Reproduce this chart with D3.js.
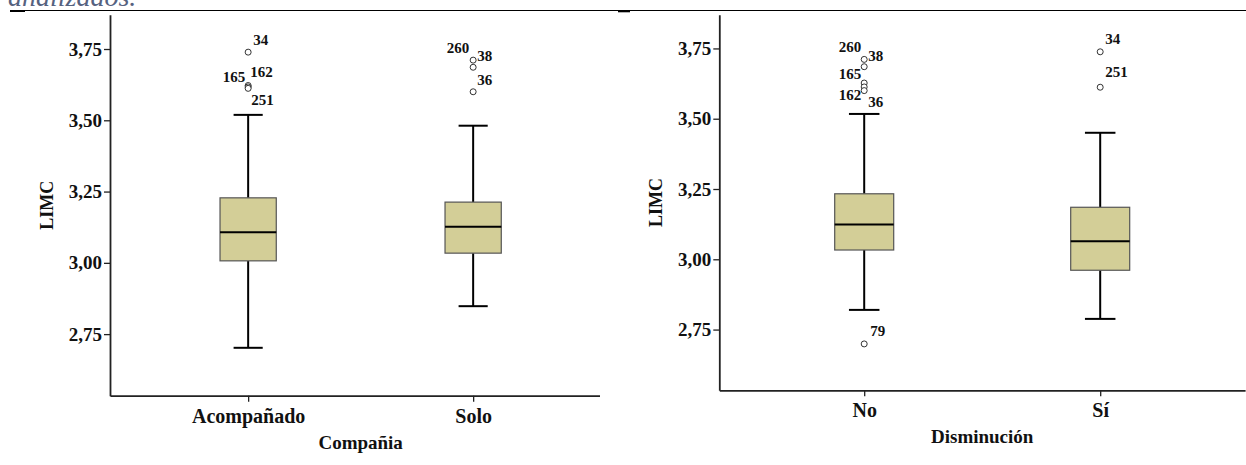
<!DOCTYPE html>
<html>
<head>
<meta charset="utf-8">
<script src="https://cdn.jsdelivr.net/npm/d3@7"></script>
<style>
  body { margin: 0; background: #fff; }
  svg { display: block; }
</style>
</head>
<body>
<svg id="chart" width="1246" height="465"></svg>
<script>
// ---- data -------------------------------------------------------------
const captionTail = "analizados.";
const yLabel = "LIMC";
const yTicks = [2.75, 3.00, 3.25, 3.50, 3.75];
const yDomain = [2.534, 3.87];

// Box statistics: [lower whisker, Q1, median, Q3, upper whisker]
const companiaTitle = "Compañia";
const companiaCategories = ["Acompañado", "Solo"];
const companiaStats = [
  [2.702, 3.007, 3.107, 3.228, 3.519],
  [2.848, 3.034, 3.127, 3.213, 3.481]
];
const companiaOutliers = [
  { cat: "Acompañado", id: "34",  value: 3.739 },
  { cat: "Acompañado", id: "165", value: 3.622 },
  { cat: "Acompañado", id: "162", value: 3.617 },
  { cat: "Acompañado", id: "251", value: 3.612 },
  { cat: "Solo", id: "260", value: 3.711 },
  { cat: "Solo", id: "38",  value: 3.686 },
  { cat: "Solo", id: "36",  value: 3.600 }
];

const disminucionTitle = "Disminución";
const disminucionCategories = ["No", "Sí"];
const disminucionStats = [
  [2.820, 3.033, 3.124, 3.233, 3.517],
  [2.788, 2.961, 3.064, 3.185, 3.450]
];
const disminucionOutliers = [
  { cat: "No", id: "260", value: 3.711 },
  { cat: "No", id: "38",  value: 3.685 },
  { cat: "No", id: "165", value: 3.627 },
  { cat: "No", id: "162", value: 3.613 },
  { cat: "No", id: "36",  value: 3.600 },
  { cat: "No", id: "79",  value: 2.699 },
  { cat: "Sí", id: "34",  value: 3.738 },
  { cat: "Sí", id: "251", value: 3.612 }
];

// ---- label placement for case numbers (offsets from the point) -------
const companiaLabelPos = {
  "Acompañado:34":  { anchor: "start", dx: 5,  dy: -7 },
  "Acompañado:165": { anchor: "end",   dx: -3, dy: -4 },
  "Acompañado:162": { anchor: "start", dx: 2,  dy: -10 },
  "Acompañado:251": { anchor: "start", dx: 3,  dy: 17 },
  "Solo:260":       { anchor: "end",   dx: -4, dy: -7 },
  "Solo:38":        { anchor: "start", dx: 4,  dy: -6 },
  "Solo:36":        { anchor: "start", dx: 4,  dy: -7 }
};
const disminucionLabelPos = {
  "No:260": { anchor: "end",   dx: -3, dy: -7 },
  "No:38":  { anchor: "start", dx: 4,  dy: -6 },
  "No:165": { anchor: "end",   dx: -3, dy: -4 },
  "No:162": { anchor: "end",   dx: -3, dy: 13 },
  "No:36":  { anchor: "start", dx: 4,  dy: 16 },
  "No:79":  { anchor: "start", dx: 6,  dy: -8 },
  "Sí:34":  { anchor: "start", dx: 5,  dy: -8 },
  "Sí:251": { anchor: "start", dx: 5,  dy: -10 }
};

// ---- drawing ----------------------------------------------------------
const svg = d3.select("#chart");
const serif = "'Liberation Serif', 'Times New Roman', serif";
const boxFill = "#d3ce97";
const fmt = v => d3.format(".2f")(v).replace(".", ",");

// caption remnant and rule above the charts
svg.append("text")
  .attr("x", 8).attr("y", 6)
  .attr("font-family", serif).attr("font-style", "italic")
  .attr("font-size", 28).attr("fill", "#56627f")
  .text(captionTail);
svg.append("line")
  .attr("x1", 10).attr("x2", 1246).attr("y1", 10.5).attr("y2", 10.5)
  .attr("stroke", "#000").attr("stroke-width", 1);
svg.append("line")
  .attr("x1", 10).attr("x2", 25).attr("y1", 11).attr("y2", 11)
  .attr("stroke", "#000").attr("stroke-width", 2);
svg.append("line")
  .attr("x1", 618).attr("x2", 630).attr("y1", 11.3).attr("y2", 11.3)
  .attr("stroke", "#000").attr("stroke-width", 2);

function drawPanel(cfg) {
  const g = svg.append("g");
  if (cfg.clipRight) {
    const id = "clip-" + cfg.name;
    svg.append("clipPath").attr("id", id)
      .append("rect").attr("x", 0).attr("y", 0)
      .attr("width", cfg.clipRight).attr("height", 465);
    g.attr("clip-path", `url(#${id})`);
  }

  const x = d3.scalePoint().domain(cfg.categories).range(cfg.xRange).padding(0.614);
  const y = d3.scaleLinear().domain(yDomain).range(cfg.yRange);
  const step = x.step();
  const boxW = step * 0.25;
  const capW = step * 0.125;
  const axisY = cfg.yRange[0];
  const axisX = cfg.xRange[0];

  // y axis
  const ya = g.append("g").attr("transform", `translate(${axisX},0)`)
    .call(d3.axisLeft(y).tickValues(yTicks).tickFormat(fmt)
      .tickSize(6).tickPadding(2).tickSizeOuter(0));
  // x axis
  const xa = g.append("g").attr("transform", `translate(0,${axisY})`)
    .call(d3.axisBottom(x).tickSize(6).tickPadding(7).tickSizeOuter(0));

  [ya, xa].forEach(a => {
    a.select(".domain").attr("stroke", "#222").attr("stroke-width", 1.8);
    a.selectAll(".tick line").attr("stroke", "#222").attr("stroke-width", 1.3);
    a.selectAll("text").attr("font-family", serif).attr("font-weight", "bold")
      .attr("fill", "#111");
  });
  ya.selectAll("text").attr("font-size", 19);
  xa.selectAll("text").attr("font-size", 20);

  // axis titles
  g.append("text")
    .attr("x", (cfg.xRange[0] + cfg.xRange[1]) / 2).attr("y", axisY + 53)
    .attr("text-anchor", "middle")
    .attr("font-family", serif).attr("font-weight", "bold").attr("font-size", 19)
    .attr("fill", "#111").text(cfg.title);
  g.append("text")
    .attr("transform", `translate(${axisX - 57},${(cfg.yRange[0] + cfg.yRange[1]) / 2}) rotate(-90)`)
    .attr("text-anchor", "middle")
    .attr("font-family", serif).attr("font-weight", "bold").attr("font-size", 18)
    .attr("fill", "#111").text(yLabel);

  // boxes
  const rows = cfg.categories.map((c, i) => ({ cat: c, s: cfg.stats[i] }));
  const bx = g.append("g").selectAll("g").data(rows).join("g")
    .attr("transform", d => `translate(${x(d.cat)},0)`);

  // whiskers
  bx.append("line").attr("x1", 0).attr("x2", 0)
    .attr("y1", d => y(d.s[3])).attr("y2", d => y(d.s[4]))
    .attr("stroke", "#000").attr("stroke-width", 2);
  bx.append("line").attr("x1", 0).attr("x2", 0)
    .attr("y1", d => y(d.s[1])).attr("y2", d => y(d.s[0]))
    .attr("stroke", "#000").attr("stroke-width", 2);
  // caps
  [0, 4].forEach(k => {
    bx.append("line").attr("x1", -capW / 2 - 0.5).attr("x2", capW / 2 + 0.5)
      .attr("y1", d => y(d.s[k])).attr("y2", d => y(d.s[k]))
      .attr("stroke", "#000").attr("stroke-width", 2);
  });
  // box
  bx.append("rect")
    .attr("x", -boxW / 2).attr("width", boxW)
    .attr("y", d => y(d.s[3])).attr("height", d => y(d.s[1]) - y(d.s[3]))
    .attr("fill", boxFill).attr("stroke", "#555").attr("stroke-width", 1.2);
  // median
  bx.append("line").attr("x1", -boxW / 2).attr("x2", boxW / 2)
    .attr("y1", d => y(d.s[2])).attr("y2", d => y(d.s[2]))
    .attr("stroke", "#000").attr("stroke-width", 2);

  // outliers
  const og = g.append("g");
  og.selectAll("circle").data(cfg.outliers).join("circle")
    .attr("cx", d => x(d.cat)).attr("cy", d => y(d.value)).attr("r", 3)
    .attr("fill", "#fff").attr("stroke", "#333").attr("stroke-width", 1);
  og.selectAll("text").data(cfg.outliers).join("text")
    .attr("x", d => x(d.cat) + cfg.labelPos[d.cat + ":" + d.id].dx)
    .attr("y", d => y(d.value) + cfg.labelPos[d.cat + ":" + d.id].dy)
    .attr("text-anchor", d => cfg.labelPos[d.cat + ":" + d.id].anchor)
    .attr("font-family", serif).attr("font-weight", "bold").attr("font-size", 15)
    .attr("fill", "#111")
    .text(d => d.id);
}

drawPanel({
  name: "compania",
  title: companiaTitle,
  categories: companiaCategories,
  stats: companiaStats,
  outliers: companiaOutliers,
  labelPos: companiaLabelPos,
  xRange: [110, 611.3],
  yRange: [395.7, 14.8],
  clipRight: 600
});

drawPanel({
  name: "disminucion",
  title: disminucionTitle,
  categories: disminucionCategories,
  stats: disminucionStats,
  outliers: disminucionOutliers,
  labelPos: disminucionLabelPos,
  xRange: [719.3, 1245.1],
  yRange: [390.3, 14.7]
});
</script>
</body>
</html>
